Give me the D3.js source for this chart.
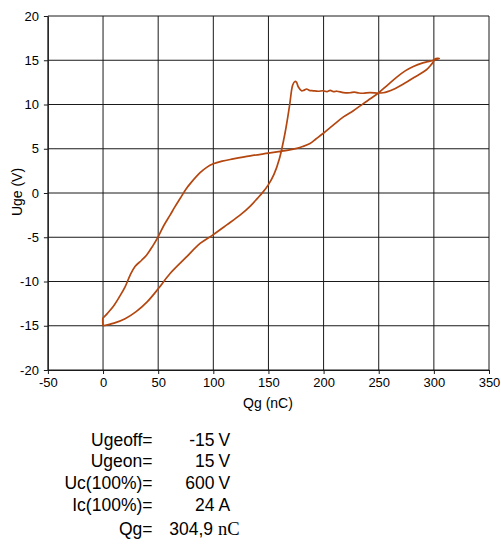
<!DOCTYPE html>
<html>
<head>
<meta charset="utf-8">
<script src="https://cdn.jsdelivr.net/npm/d3@7"></script>
<style>
  html, body { margin: 0; padding: 0; background: #fff; }
  svg { display: block; font-family: "Liberation Sans", Arial, sans-serif; }
</style>
</head>
<body>
<svg id="chart" width="501" height="545"></svg>
<script>
// Gate charge: turn-on branch (with Miller plateau), Qg in nC, Uge in V
const qgOn  = [0, 10, 20, 30, 40, 50.2, 60.8, 75.9, 88, 100, 112.2, 124.2, 133.3, 140, 145, 150, 155, 160, 165, 169, 172, 174, 175.5, 177, 180, 182, 184.6, 187, 190.6, 195, 199.8, 203, 206, 209, 212, 218, 224, 228, 232, 236, 242, 249.7, 254, 258, 263, 272, 284, 293, 297.6, 299.5, 301, 304.9];
const ugeOn = [-15, -14.7, -14.2, -13.4, -12.3, -10.8, -9.1, -7.2, -5.7, -4.7, -3.6, -2.5, -1.5, -0.6, 0.1, 0.95, 2.1, 3.9, 6.75, 9.75, 12.2, 12.6, 12.5, 12.0, 11.55, 11.6, 11.75, 11.6, 11.55, 11.5, 11.55, 11.45, 11.6, 11.45, 11.5, 11.35, 11.33, 11.4, 11.3, 11.27, 11.35, 11.3, 11.33, 11.45, 11.7, 12.3, 13.2, 13.9, 14.5, 14.8, 15.15, 15.2];

// Turn-off branch, traced back from full charge to Qg = 0
const qgOff  = [299.5, 296.5, 290, 281.4, 274, 266.4, 258, 249.7, 243, 236, 227, 218, 209, 199.8, 193, 187.7, 181, 175.7, 168, 160.7, 150, 133.5, 118, 108, 100, 94, 88, 80, 75, 70, 65, 60.8, 55, 50.2, 45, 39.6, 35, 29, 24.5, 20, 15, 9.4, 4, 1, 0, 0];
const ugeOff = [15.0, 14.9, 14.7, 14.3, 13.8, 13.1, 12.2, 11.3, 10.7, 10.1, 9.3, 8.6, 7.7, 6.75, 6.1, 5.6, 5.25, 5.05, 4.85, 4.7, 4.5, 4.2, 3.85, 3.6, 3.3, 2.9, 2.3, 1.2, 0.4, -0.6, -1.6, -2.5, -3.7, -4.9, -6.0, -7.0, -7.6, -8.3, -9.3, -10.6, -11.7, -12.8, -13.6, -14.0, -14.1, -15];

// Axis ticks
const xTicks = [-50, 0, 50, 100, 150, 200, 250, 300, 350];
const yTicks = [-20, -15, -10, -5, 0, 5, 10, 15, 20];

// Test conditions printed under the chart
const infoLabels = ["Ugeoff=", "Ugeon=", "Uc(100%)=", "Ic(100%)=", "Qg="];
const infoValues = ["-15", "15", "600", "24", "304,9"];
const infoUnits  = ["V", "V", "V", "A", "nC"];

const svg = d3.select("#chart");
const plotL = 47.9, plotR = 489, plotT = 16, plotB = 370;

const x = d3.scaleLinear().domain([-50, 350]).range([plotL, plotR]);
const y = d3.scaleLinear().domain([-20, 20]).range([plotB, plotT]);

// Grid
const grid = svg.append("g").attr("stroke", "#1a1a1a").attr("stroke-width", 1);
grid.selectAll(".vg").data(xTicks).join("line")
  .attr("x1", d => x(d)).attr("x2", d => x(d))
  .attr("y1", plotT).attr("y2", plotB);
grid.selectAll(".hg").data(yTicks).join("line")
  .attr("y1", d => y(d)).attr("y2", d => y(d))
  .attr("x1", plotL).attr("x2", plotR);

// Axes (plain hyphen for negative numbers)
const fmt = d => String(d);
const xAxis = svg.append("g").attr("transform", `translate(0,${plotB})`)
  .call(d3.axisBottom(x).tickValues(xTicks).tickFormat(fmt).tickSize(4).tickSizeOuter(0).tickPadding(4));
const yAxis = svg.append("g").attr("transform", `translate(${plotL},0)`)
  .call(d3.axisLeft(y).tickValues(yTicks).tickFormat(fmt).tickSize(4).tickSizeOuter(0).tickPadding(5));
[xAxis, yAxis].forEach(a => {
  a.select(".domain").attr("stroke", "#1a1a1a");
  a.selectAll(".tick line").attr("stroke", "#1a1a1a");
  a.selectAll(".tick text").attr("fill", "#000")
    .style("font-family", "'Liberation Sans', Arial, sans-serif").style("font-size", "13px");
});

// Axis titles
svg.append("text").attr("x", 268).attr("y", 408).attr("text-anchor", "middle")
  .style("font-size", "14px").text("Qg (nC)");
svg.append("text").attr("transform", "translate(22,192) rotate(-90)").attr("text-anchor", "middle")
  .style("font-size", "14px").text("Uge (V)");

// Gate charge loop
const pts = qgOn.map((q, i) => [q, ugeOn[i]]).concat(qgOff.map((q, i) => [q, ugeOff[i]]));
const line = d3.line().x(d => x(d[0])).y(d => y(d[1])).curve(d3.curveCatmullRom.alpha(0.5));
svg.append("path").datum(pts).attr("d", line)
  .attr("fill", "none").attr("stroke", "#b4460f").attr("stroke-width", 1.7)
  .attr("stroke-linejoin", "round");

// Info block
const baselines = [446, 467, 489, 511, 535];
const info = svg.append("g").style("font-size", "17.5px");
info.selectAll(".lab").data(infoLabels).join("text")
  .attr("x", 152.5).attr("y", (d, i) => baselines[i]).attr("text-anchor", "end").text(d => d);
info.selectAll(".val").data(infoValues).join("text")
  .attr("x", (d, i) => i === 4 ? 213 : 214.5).attr("y", (d, i) => baselines[i])
  .attr("text-anchor", "end").text(d => d);
info.selectAll(".unit").data(infoUnits).join("text")
  .attr("x", d => d === "nC" ? 218 : 218.5).attr("y", (d, i) => baselines[i])
  .style("font-family", d => d === "nC" ? "'Liberation Serif', 'Times New Roman', serif" : null)
  .style("font-size", d => d === "nC" ? "18.5px" : null)
  .text(d => d);
</script>
</body>
</html>
